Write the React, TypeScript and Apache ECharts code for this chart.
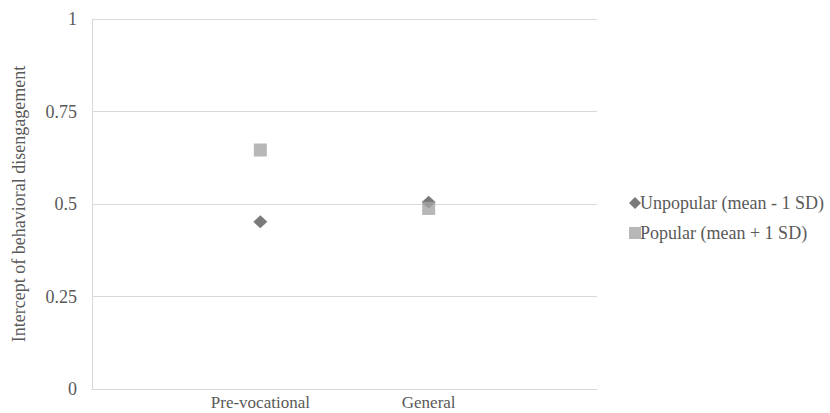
import React, { useEffect, useRef } from "react";
import * as echarts from "echarts";

const categories = ["Pre-vocational", "General"];
const unpopular = [0.452, 0.505];
const popular = [0.646, 0.488];
const yTicks = [0, 0.25, 0.5, 0.75, 1];
const seriesNames = ["Unpopular (mean - 1 SD)", "Popular (mean + 1 SD)"];

const FONT = "Liberation Serif";
const GRID_COLOR = "#d9d9d9";
const TEXT_COLOR = "#595959";

export default function App() {
  const ref = useRef<HTMLDivElement>(null);
  useEffect(() => {
    if (!ref.current) return;
    const chart = echarts.init(ref.current, undefined, { renderer: "svg" });
    const axisCats = ["", ...categories, ""];
    chart.setOption({
      animation: false,
      backgroundColor: "#ffffff",
      textStyle: { fontFamily: FONT },
      grid: { left: 92, top: 19, right: 233, bottom: 24, containLabel: false },
      xAxis: {
        type: "category",
        data: axisCats,
        boundaryGap: false,
        axisLine: { show: true, lineStyle: { color: GRID_COLOR, width: 1 } },
        axisTick: { show: false },
        axisLabel: {
          color: TEXT_COLOR,
          fontFamily: FONT,
          fontSize: 17,
          margin: 5,
          interval: 0,
        },
        splitLine: { show: false },
      },
      yAxis: {
        type: "value",
        min: yTicks[0],
        max: yTicks[yTicks.length - 1],
        interval: 0.25,
        name: "Intercept of behavioral disengagement",
        nameLocation: "middle",
        nameGap: 64,
        nameTextStyle: { color: TEXT_COLOR, fontFamily: FONT, fontSize: 18 },
        axisLine: { show: true, lineStyle: { color: GRID_COLOR, width: 1 } },
        axisTick: { show: false },
        axisLabel: {
          color: TEXT_COLOR,
          fontFamily: FONT,
          fontSize: 18,
          margin: 15,
        },
        splitLine: { show: true, lineStyle: { color: GRID_COLOR, width: 1 } },
      },
      legend: {
        orient: "vertical",
        left: 624,
        top: 189,
        padding: 5,
        itemWidth: 12,
        itemHeight: 12,
        itemGap: 12,
        textStyle: {
          color: TEXT_COLOR,
          fontFamily: FONT,
          fontSize: 18,
          padding: [0, 0, 0, -6],
        },
        data: [
          { name: seriesNames[0], icon: "diamond" },
          { name: seriesNames[1], icon: "rect" },
        ],
      },
      series: [
        {
          name: seriesNames[0],
          type: "scatter",
          symbol: "diamond",
          symbolSize: [14, 13],
          itemStyle: { color: "#595959" },
          data: categories.map((c, i) => [c, unpopular[i]]),
        },
        {
          name: seriesNames[1],
          type: "scatter",
          symbol: "rect",
          symbolSize: 13,
          itemStyle: { color: "#a5a5a5" },
          data: categories.map((c, i) => [c, popular[i]]),
        },
      ],
    });
    return () => chart.dispose();
  }, []);
  return <div ref={ref} style={{ width: 830, height: 413, position: "absolute", left: 0, top: 0 }} />;
}
